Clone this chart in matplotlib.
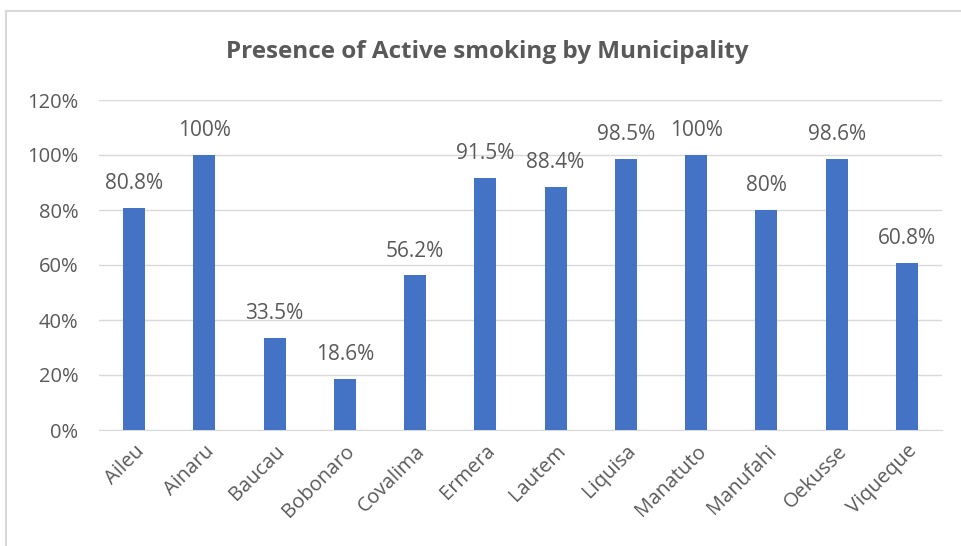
import matplotlib
matplotlib.use("Agg")
import matplotlib.pyplot as plt
from matplotlib.ticker import FuncFormatter
from matplotlib.lines import Line2D

categories = ["Aileu", "Ainaru", "Baucau", "Bobonaro", "Covalima", "Ermera",
              "Lautem", "Liquisa", "Manatuto", "Manufahi", "Oekusse", "Viqueque"]
values = [80.8, 100, 33.5, 18.6, 56.2, 91.5, 88.4, 98.5, 100, 80, 98.6, 60.8]
labels = ["80.8%", "100%", "33.5%", "18.6%", "56.2%", "91.5%",
          "88.4%", "98.5%", "100%", "80%", "98.6%", "60.8%"]
yticks = [0, 20, 40, 60, 80, 100, 120]

plt.rcParams['font.family'] = ['Open Sans', 'DejaVu Sans']
text_color = "#595959"

W, H = 962, 546
fig = plt.figure(figsize=(W / 100, H / 100), dpi=100)
ax = fig.add_axes([99 / W, 1 - 430 / H, (942 - 99) / W, (430 - 100) / H])

x = list(range(len(categories)))
ax.bar(x, values, width=0.31, color="#4472C4", zorder=3)
ax.set_xlim(-0.5, len(categories) - 0.5)
ax.set_ylim(0, 120)
ax.set_yticks(yticks)
ax.yaxis.set_major_formatter(FuncFormatter(lambda v, p: f"{v:.0f}%"))
ax.grid(axis="y", color="#D9D9D9", linewidth=1, zorder=0)
for s in ["top", "right", "left"]:
    ax.spines[s].set_visible(False)
ax.spines["bottom"].set_color("#D9D9D9")
ax.tick_params(axis="both", length=0, labelsize=14.5, colors=text_color)
ax.tick_params(axis="y", pad=15)
ax.set_xticks(x)
ax.set_xticklabels(categories, rotation=45, ha="right", rotation_mode="anchor")
ax.tick_params(axis="x", pad=8)

for xi, v, lab in zip(x, values, labels):
    ax.annotate(lab, (xi, v), xytext=(0, 10), textcoords="offset points",
                ha="center", va="bottom", fontsize=15, color=text_color)

fig.text(487 / W, 1 - 52 / H, "Presence of Active smoking by Municipality",
         ha="center", va="center", fontsize=17.5, fontweight="bold", color=text_color)

# chart border (top and left visible)
fig.add_artist(Line2D([6 / W, 6 / W], [0, 1 - 11 / H], transform=fig.transFigure,
                      color="#D9D9D9", linewidth=1.5))
fig.add_artist(Line2D([6 / W, 1], [1 - 11 / H, 1 - 11 / H], transform=fig.transFigure,
                      color="#D9D9D9", linewidth=1.5))

fig.savefig("out.png", dpi=100)
